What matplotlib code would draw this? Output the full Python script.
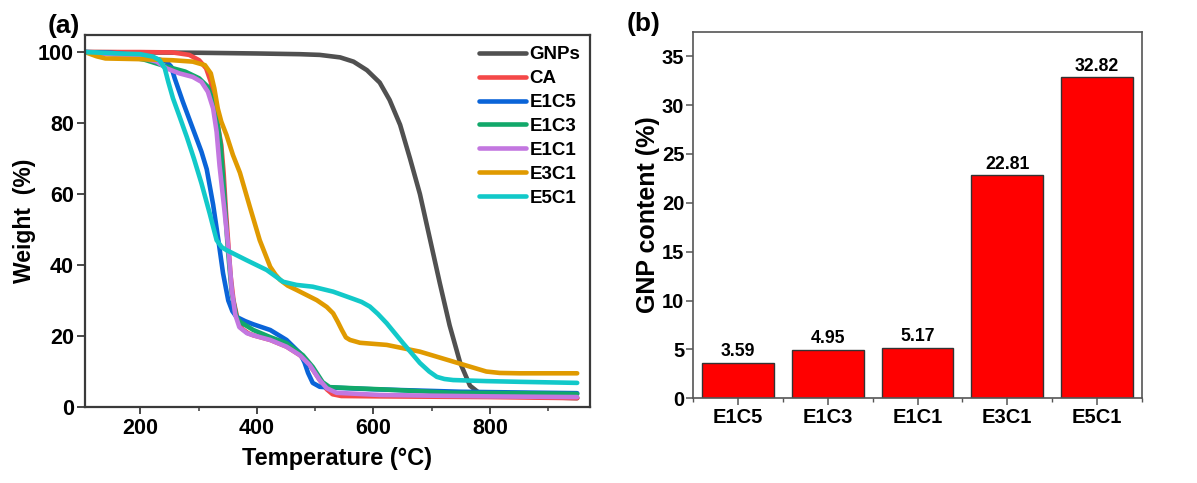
import matplotlib
matplotlib.use("Agg")
import matplotlib.pyplot as plt
from matplotlib.ticker import MultipleLocator

plt.rcParams['font.family'] = ['Liberation Sans', 'DejaVu Sans']
plt.rcParams['font.weight'] = 'bold'

# ---- TGA curves: temperature (°C) and residual weight (%) ----
gnps_t = [105, 200, 300, 400, 474, 508, 543, 566, 589, 611, 628, 646, 663, 680, 697, 714, 731, 749, 766, 783, 800, 870, 950]
gnps_w = [100, 99.9, 99.8, 99.6, 99.4, 99.2, 98.5, 97.3, 94.9, 91.4, 86.5, 79.5, 70, 60, 47.5, 35, 23, 12.5, 6, 3.8, 3.2, 2.9, 2.5]

ca_t = [105, 200, 255, 284, 301, 313, 321, 327, 333, 339, 343, 347, 351, 355, 360, 366, 375, 385, 394, 423, 451, 474, 491, 508, 520, 530, 545, 611, 800, 950]
ca_w = [100, 100, 99.9, 99.2, 97.7, 95.4, 91.6, 86, 79.4, 73.8, 66, 55, 46, 37, 30, 25.5, 22, 20.8, 20.2, 18.9, 17, 14.6, 11.8, 7.6, 5, 3.6, 3.1, 3.0, 2.8, 2.5]

e1c5_t = [105, 150, 200, 230, 245, 253, 259, 273, 290, 305, 314, 325, 334, 342, 351, 358, 365, 380, 394, 423, 451, 474, 482, 488, 496, 508, 525, 600, 750, 950]
e1c5_w = [100, 99.8, 99, 98, 97.3, 95.9, 92.6, 86, 78.5, 71.9, 67, 57, 47, 37.7, 30, 27, 25.4, 24.2, 23.3, 21.7, 18.9, 15.2, 12.5, 9.6, 6.8, 5.7, 5.5, 5.0, 4.3, 3.9]

e1c3_t = [105, 162, 208, 243, 277, 301, 316, 325, 332, 338, 344, 350, 357, 365, 371, 394, 423, 451, 479, 496, 513, 525, 565, 611, 737, 851, 950]
e1c3_w = [100, 99.3, 97.8, 96, 94.5, 92.6, 90.2, 86, 80.4, 73.8, 60, 45, 32, 25.5, 24, 21.7, 19.7, 18, 14.6, 11.3, 7, 5.6, 5.3, 5, 4, 3.9, 3.7]

e1c1_t = [105, 162, 200, 228, 245, 267, 290, 305, 316, 325, 331, 336, 344, 351, 357, 363, 370, 383, 394, 423, 451, 474, 491, 508, 520, 537, 611, 700, 800, 950]
e1c1_w = [100, 99.2, 98.5, 97.3, 95.4, 94, 93, 91.6, 88.8, 84.1, 77.5, 68, 56, 45, 33, 26, 22.5, 20.8, 20.2, 18.9, 17, 14.6, 11.8, 7.6, 5.3, 4, 3.4, 3.2, 3.0, 2.8]

e3c1_t = [105, 125, 140, 200, 255, 290, 311, 321, 327, 333, 339, 348, 359, 371, 388, 405, 423, 432, 440, 453, 468, 503, 520, 531, 539, 546, 553, 560, 577, 623, 680, 737, 794, 817, 851, 950]
e3c1_w = [100, 98.8, 98.2, 98, 97.7, 97.3, 96.3, 94, 89.8, 84.1, 80.4, 76.6, 71, 66, 56.4, 47, 39.5, 37.3, 35.8, 34.2, 33, 30.1, 28.2, 26.4, 24, 21.7, 19.6, 18.9, 18.1, 17.5, 15.6, 12.8, 10, 9.6, 9.5, 9.5]

e5c1_t = [105, 162, 200, 222, 233, 242, 248, 256, 267, 280, 292, 305, 319, 331, 340, 348, 382, 417, 445, 468, 496, 531, 565, 580, 594, 608, 623, 651, 680, 696, 709, 722, 737, 794, 851, 950]
e5c1_w = [100, 99.6, 99.4, 98.7, 97.7, 95.4, 91.6, 87, 82, 76, 70, 63, 54.6, 47, 45, 44.2, 41.4, 38.6, 35.3, 34.4, 33.9, 32.5, 30.5, 29.6, 28.3, 26.2, 23.6, 18, 12.4, 10, 8.5, 7.9, 7.6, 7.3, 7.1, 6.8]

series_names = ['GNPs', 'CA', 'E1C5', 'E1C3', 'E1C1', 'E3C1', 'E5C1']
series_colors = ['#505050', '#f44848', '#0a64d8', '#12a86a', '#c377e0', '#e09a00', '#12c9c9']

# ---- GNP content bars ----
samples = ['E1C5', 'E1C3', 'E1C1', 'E3C1', 'E5C1']
gnp_content = [3.59, 4.95, 5.17, 22.81, 32.82]

spine_color = '#3a3a3a'

fig = plt.figure(figsize=(11.97, 4.83), dpi=100)
ax1 = fig.add_axes([0.0710, 0.1573, 0.4219, 0.7702])
ax2 = fig.add_axes([0.5792, 0.1754, 0.3746, 0.7590])

# (a) TGA curves
curves = [(gnps_t, gnps_w), (ca_t, ca_w), (e1c5_t, e1c5_w), (e1c3_t, e1c3_w),
          (e1c1_t, e1c1_w), (e3c1_t, e3c1_w), (e5c1_t, e5c1_w)]
for (t, w), name, col in zip(curves, series_names, series_colors):
    ax1.plot(t, w, color=col, lw=3.3, label=name, solid_capstyle='round', solid_joinstyle='round')

ax1.set_xlim(105, 972)
ax1.set_ylim(0, 104.8)
ax1.xaxis.set_major_locator(MultipleLocator(200))
ax1.xaxis.set_minor_locator(MultipleLocator(100))
ax1.yaxis.set_major_locator(MultipleLocator(20))
ax1.tick_params(axis='both', which='major', direction='out', length=5, width=1.3,
                color=spine_color, labelsize=15.5, pad=3)
ax1.tick_params(axis='x', which='minor', direction='out', length=3, width=1.1, color=spine_color)
ax1.tick_params(axis='y', which='major', length=6, pad=2)
ax1.set_xlabel('Temperature (°C)', fontsize=17, fontweight='bold', labelpad=6)
ax1.set_ylabel('Weight  (%)', fontsize=16.5, fontweight='bold', labelpad=1)
leg = ax1.legend(loc='upper right', bbox_to_anchor=(0.985, 0.975), frameon=False,
                 fontsize=13.5, handlelength=2.5, handletextpad=0.2, labelspacing=0.36,
                 borderpad=0.1, borderaxespad=0)
for line in leg.get_lines():
    line.set_linewidth(3.3)
for txt in leg.get_texts():
    txt.set_fontweight('bold')

# (b) GNP content bars
x = range(len(samples))
bars = ax2.bar(x, gnp_content, width=0.8, color='#ff0000', edgecolor='#333333', linewidth=1.0)
for xi, v in zip(x, gnp_content):
    ax2.annotate(f'{v:.2f}', (xi, v), xytext=(0, 2), textcoords='offset points',
                 ha='center', va='bottom', fontsize=12.7, fontweight='bold')
ax2.set_xlim(-0.5, 4.5)
ax2.set_ylim(0, 37.5)
ax2.set_xticks(list(x))
ax2.set_xticklabels(samples)
ax2.set_xticks([i + 0.5 for i in range(-1, len(samples))], minor=True)
ax2.yaxis.set_major_locator(MultipleLocator(5))
ax2.tick_params(axis='both', which='major', direction='out', length=5, width=1.1,
                color='#555555', labelsize=14.5, pad=2)
ax2.tick_params(axis='y', which='major', pad=1.5)
ax2.tick_params(axis='x', which='minor', direction='out', length=3, width=1.0, color='#555555')
ax2.set_ylabel('GNP content (%)', fontsize=18, fontweight='bold', labelpad=1)

for ax, lw, c in ((ax1, 1.6, spine_color), (ax2, 1.2, '#555555')):
    for sp in ax.spines.values():
        sp.set_linewidth(lw)
        sp.set_color(c)
    for lab in ax.get_xticklabels() + ax.get_yticklabels():
        lab.set_fontweight('bold')

fig.text(0.0401, 0.947, '(a)', fontsize=19, fontweight='bold', ha='left', va='center')
fig.text(0.5238, 0.951, '(b)', fontsize=19, fontweight='bold', ha='left', va='center')

fig.savefig('out.png', dpi=100)
